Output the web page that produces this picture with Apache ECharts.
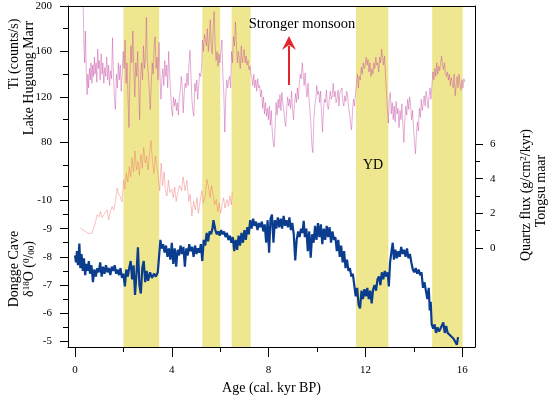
<!DOCTYPE html>
<html>
<head>
<meta charset="utf-8">
<script src="https://cdn.jsdelivr.net/npm/echarts@6/dist/echarts.min.js"></script>
<style>
  html, body { margin: 0; padding: 0; background: #fff; }
  #chart { width: 553px; height: 395px; }
</style>
</head>
<body>
<div id="chart"></div>
<script>
// Holocene monsoon records: Ti (Lake Huguang Maar), quartz flux (Tongsu maar), Dongge Cave d18O

// shaded intervals, kyr BP
const bands = [[2.0, 3.48], [5.26, 6.0], [6.47, 7.26], [11.61, 12.95], [14.76, 16.02]];

// tick values
const ageMajor = [0, 4, 8, 12, 16];
const ageMinor = [2, 6, 10, 14];
const tiMajor = [80, 120, 160, 200];
const tiMinor = [60, 100, 140, 180];
const d18oMajor = [-10, -9, -8, -7, -6, -5];
const d18oMinor = [-10.5, -9.5, -8.5, -7.5, -6.5, -5.5];
const qMajor = [0, 2, 4, 6];
const qMinor = [1, 3, 5];

// Ti counts/s  [age, value]
const tiData = [
  [0.34,200],[0.37,165],[0.40,150],[0.43,178],[0.46,147],[0.50,122],[0.53,140],[0.56,128],[0.60,145],[0.63,135],
  [0.66,150],[0.70,132],[0.73,148],[0.76,138],[0.80,155],[0.83,140],[0.87,150],[0.90,133],[0.94,162],[0.97,145],
  [1.00,152],[1.04,135],[1.08,158],[1.12,140],[1.15,150],[1.19,132],[1.23,146],[1.27,138],[1.31,155],[1.35,135],
  [1.39,148],[1.43,130],[1.47,143],[1.51,136],[1.55,172],[1.59,140],[1.63,118],[1.67,109],[1.71,140],[1.75,128],
  [1.79,150],[1.83,135],[1.87,148],[1.91,125],[1.95,140],[1.99,160],[2.03,145],[2.07,170],[2.11,132],[2.15,150],
  [2.19,120],[2.23,93],[2.27,140],[2.31,165],[2.35,150],[2.39,178],[2.43,145],[2.47,120],[2.51,150],[2.55,138],
  [2.59,160],[2.63,130],[2.67,100],[2.71,140],[2.75,150],[2.79,135],[2.83,165],[2.87,145],[2.91,155],[2.95,190],
  [2.99,150],[3.03,140],[3.07,125],[3.11,109],[3.15,130],[3.19,150],[3.23,140],[3.27,165],[3.31,173],[3.35,145],
  [3.39,155],[3.43,135],[3.47,168],[3.51,140],[3.55,118],[3.59,135],[3.63,145],[3.67,130],[3.71,152],[3.75,138],
  [3.79,148],[3.83,128],[3.87,160],[3.91,140],[3.95,125],[3.99,110],[4.03,103],[4.07,120],[4.11,112],[4.15,118],
  [4.19,108],[4.23,115],[4.27,104],[4.31,120],[4.35,125],[4.39,138],[4.43,130],[4.47,106],[4.51,122],[4.55,132],
  [4.59,128],[4.63,141],[4.67,130],[4.71,148],[4.75,161],[4.79,140],[4.83,118],[4.87,108],[4.91,103],[4.95,132],
  [4.99,125],[5.03,135],[5.07,118],[5.11,130],[5.15,141],[5.19,138],[5.23,145],[5.27,170],[5.31,160],[5.35,175],
  [5.39,176],[5.43,165],[5.47,180],[5.51,160],[5.55,170],[5.59,188],[5.63,165],[5.67,158],[5.71,180],[5.75,195],
  [5.79,165],[5.83,152],[5.87,160],[5.91,147],[5.95,158],[5.99,150],[6.03,161],[6.07,170],[6.11,140],[6.15,123],
  [6.19,89],[6.23,120],[6.27,135],[6.31,128],[6.35,135],[6.39,138],[6.43,128],[6.47,160],[6.51,150],[6.55,173],
  [6.59,165],[6.63,186],[6.67,165],[6.71,150],[6.75,160],[6.79,153],[6.83,145],[6.87,165],[6.91,150],[6.95,155],
  [6.99,162],[7.03,150],[7.07,156],[7.11,148],[7.15,152],[7.19,144],[7.23,147],[7.27,140],[7.31,137],[7.35,130],
  [7.39,140],[7.43,128],[7.47,135],[7.51,125],[7.55,136],[7.59,128],[7.63,130],[7.67,120],[7.71,126],[7.75,110],
  [7.79,120],[7.83,105],[7.87,115],[7.91,103],[7.95,110],[7.99,100],[8.03,112],[8.07,95],[8.11,108],[8.15,90],
  [8.19,80],[8.23,76],[8.27,95],[8.31,115],[8.35,104],[8.39,118],[8.43,110],[8.47,122],[8.51,108],[8.55,124],
  [8.59,114],[8.63,108],[8.67,98],[8.71,94],[8.75,110],[8.79,120],[8.83,112],[8.87,118],[8.91,110],[8.95,125],
  [8.99,108],[9.03,100],[9.07,114],[9.11,123],[9.15,115],[9.19,128],[9.23,118],[9.27,132],[9.31,140],[9.35,136],
  [9.39,150],[9.43,151],[9.47,130],[9.51,141],[9.55,128],[9.59,120],[9.63,132],[9.67,118],[9.71,108],[9.75,95],
  [9.79,77],[9.83,71],[9.87,100],[9.91,112],[9.95,118],[9.99,130],[10.03,122],[10.07,125],[10.11,115],[10.15,125],
  [10.19,105],[10.23,89],[10.27,110],[10.31,118],[10.35,115],[10.39,126],[10.43,112],[10.47,109],[10.51,118],[10.55,125],
  [10.59,118],[10.63,121],[10.67,132],[10.71,120],[10.75,125],[10.79,115],[10.83,118],[10.87,126],[10.91,112],[10.95,124],
  [10.99,123],[11.03,128],[11.07,115],[11.11,112],[11.15,121],[11.19,116],[11.23,125],[11.27,120],[11.31,110],[11.35,105],
  [11.39,96],[11.43,91],[11.47,108],[11.51,118],[11.55,112],[11.59,123],[11.63,130],[11.67,140],[11.71,128],[11.75,138],
  [11.79,135],[11.83,146],[11.87,140],[11.91,150],[11.95,145],[11.99,147],[12.03,155],[12.07,148],[12.11,153],[12.15,142],
  [12.19,150],[12.23,138],[12.27,145],[12.31,140],[12.35,150],[12.39,145],[12.43,155],[12.47,148],[12.51,150],[12.55,142],
  [12.59,155],[12.63,150],[12.67,162],[12.71,155],[12.75,148],[12.79,156],[12.83,140],[12.87,125],[12.91,110],[12.95,97],
  [12.99,118],[13.03,124],[13.07,105],[13.11,115],[13.15,100],[13.19,112],[13.23,98],[13.27,116],[13.31,105],[13.35,110],
  [13.39,93],[13.43,108],[13.47,100],[13.51,114],[13.55,95],[13.59,80],[13.63,100],[13.67,112],[13.71,104],[13.75,118],
  [13.79,109],[13.83,120],[13.87,112],[13.91,100],[13.95,108],[13.99,92],[14.03,80],[14.07,70],[14.11,88],[14.15,98],
  [14.19,90],[14.23,110],[14.27,102],[14.31,118],[14.35,108],[14.39,114],[14.43,121],[14.47,112],[14.51,125],[14.55,118],
  [14.59,110],[14.63,120],[14.67,128],[14.71,118],[14.75,130],[14.79,142],[14.83,135],[14.87,145],[14.91,138],[14.95,150],
  [14.99,140],[15.03,147],[15.07,143],[15.11,150],[15.15,156],[15.19,148],[15.23,144],[15.27,150],[15.31,140],[15.35,138],
  [15.39,142],[15.43,135],[15.47,140],[15.51,130],[15.55,137],[15.59,132],[15.63,128],[15.67,140],[15.71,121],[15.75,130],
  [15.79,138],[15.83,128],[15.87,140],[15.91,132],[15.95,126],[15.99,135],[16.03,128],[16.07,136],[16.11,133]
];

// quartz flux g/cm2/kyr  [age, value]
const quartzData = [
  [0.22,1.15],[0.30,1.05],[0.43,0.96],[0.55,0.85],[0.63,0.77],[0.70,0.85],[0.77,0.96],[0.85,1.5],[0.91,1.92],[1.00,1.8],
  [1.05,2.1],[1.12,1.75],[1.18,1.82],[1.25,2.05],[1.32,2.2],[1.39,1.63],[1.46,2.1],[1.53,2.39],[1.60,2.2],[1.67,2.68],
  [1.74,3.45],[1.80,3.1],[1.87,2.97],[1.94,2.68],[2.01,3.93],[2.06,3.4],[2.12,4.3],[2.18,3.8],[2.24,4.7],[2.30,4.1],
  [2.36,5.2],[2.42,4.4],[2.48,5.6],[2.54,4.5],[2.60,5.0],[2.66,4.2],[2.72,5.4],[2.78,4.6],[2.84,5.8],[2.90,4.9],
  [2.96,5.3],[3.02,4.5],[3.08,5.5],[3.14,6.2],[3.20,5.0],[3.26,4.3],[3.32,5.3],[3.38,4.8],[3.44,4.1],[3.50,3.3],
  [3.56,4.9],[3.62,3.6],[3.68,4.4],[3.74,3.3],[3.80,3.0],[3.86,3.9],[3.92,3.2],[4.00,3.4],[4.06,2.9],[4.12,3.5],
  [4.18,2.7],[4.25,3.2],[4.32,3.6],[4.40,3.3],[4.47,4.1],[4.55,3.3],[4.62,3.9],[4.70,2.7],[4.76,3.1],[4.83,1.85],
  [4.90,2.7],[4.97,2.2],[5.04,2.9],[5.10,2.0],[5.17,2.7],[5.24,3.3],[5.30,2.6],[5.38,3.0],[5.45,3.95],[5.52,3.5],
  [5.58,2.9],[5.64,3.6],[5.70,3.1],[5.77,2.5],[5.84,2.8],[5.90,2.1],[5.96,2.6],[6.02,2.0],[6.08,2.5],[6.14,2.9],
  [6.20,2.3],[6.28,2.8],[6.34,2.4],[6.40,3.0],[6.46,2.5],[6.50,3.2]
];

// Dongge Cave d18O permil  [age, value]
const donggeData = [
  [0.00,-8.05],[0.04,-7.8],[0.08,-8.2],[0.12,-7.7],[0.18,-8.47],[0.22,-7.6],[0.27,-8.1],[0.32,-7.5],[0.37,-7.95],[0.42,-7.35],
  [0.47,-7.75],[0.52,-7.5],[0.57,-7.85],[0.62,-7.4],[0.68,-7.7],[0.74,-7.1],[0.80,-7.55],[0.86,-7.3],[0.92,-7.6],[0.98,-7.45],
  [1.04,-7.8],[1.10,-7.3],[1.16,-7.65],[1.22,-7.4],[1.28,-7.7],[1.34,-7.45],[1.40,-7.6],[1.46,-7.35],[1.52,-7.65],[1.58,-7.5],
  [1.64,-7.7],[1.70,-7.4],[1.76,-7.55],[1.82,-7.35],[1.88,-7.6],[1.94,-7.25],[2.00,-7.4],[2.06,-6.95],[2.12,-7.55],[2.18,-7.3],
  [2.24,-7.6],[2.30,-7.85],[2.36,-7.2],[2.42,-7.7],[2.48,-6.65],[2.54,-7.4],[2.60,-8.34],[2.66,-7.0],[2.72,-6.7],[2.78,-7.6],
  [2.84,-7.85],[2.90,-7.1],[2.96,-7.5],[3.02,-7.15],[3.10,-7.45],[3.18,-7.25],[3.26,-7.4],[3.34,-7.3],[3.42,-7.45],[3.48,-7.4],
  [3.53,-8.6],[3.58,-8.3],[3.64,-8.45],[3.70,-8.15],[3.76,-8.4],[3.82,-8.0],[3.88,-8.3],[3.94,-7.9],[4.00,-8.5],[4.06,-7.75],
  [4.12,-8.3],[4.18,-7.65],[4.24,-8.25],[4.30,-8.05],[4.36,-8.4],[4.42,-8.1],[4.48,-8.35],[4.54,-7.65],[4.60,-8.3],[4.66,-8.05],
  [4.72,-8.45],[4.78,-8.2],[4.84,-8.35],[4.90,-8.0],[4.96,-8.4],[5.02,-8.1],[5.08,-8.3],[5.14,-8.15],[5.20,-8.45],[5.26,-7.85],
  [5.32,-8.6],[5.38,-8.4],[5.44,-8.85],[5.50,-8.55],[5.56,-8.9],[5.62,-8.8],[5.68,-9.0],[5.72,-9.3],[5.80,-8.95],[5.86,-8.8],
  [5.92,-8.9],[5.98,-8.75],[6.04,-8.95],[6.10,-8.8],[6.16,-8.9],[6.22,-8.7],[6.28,-8.85],[6.34,-8.6],[6.40,-8.75],[6.46,-8.5],
  [6.52,-8.7],[6.58,-8.2],[6.64,-8.6],[6.70,-8.25],[6.76,-8.75],[6.82,-8.4],[6.88,-8.85],[6.94,-8.5],[7.00,-8.95],[7.06,-8.6],
  [7.12,-9.05],[7.18,-8.8],[7.24,-9.3],[7.30,-9.0],[7.36,-9.35],[7.42,-9.1],[7.48,-9.25],[7.54,-8.95],[7.60,-9.2],[7.66,-9.05],
  [7.72,-9.25],[7.78,-8.9],[7.84,-9.15],[7.90,-8.5],[7.96,-9.3],[8.02,-8.15],[8.08,-9.35],[8.14,-9.5],[8.20,-8.5],[8.26,-9.3],
  [8.32,-9.0],[8.38,-9.4],[8.44,-9.05],[8.50,-9.35],[8.56,-9.0],[8.62,-9.45],[8.68,-9.1],[8.74,-9.3],[8.80,-9.05],[8.86,-9.4],
  [8.92,-8.95],[8.98,-9.2],[9.04,-8.8],[9.10,-7.87],[9.16,-8.6],[9.22,-8.9],[9.28,-8.7],[9.34,-9.0],[9.40,-8.85],[9.45,-9.28],
  [9.50,-8.7],[9.56,-9.0],[9.62,-8.2],[9.68,-8.9],[9.74,-7.97],[9.80,-8.8],[9.86,-8.5],[9.92,-9.1],[9.98,-8.6],[10.04,-9.2],
  [10.10,-8.7],[10.16,-9.15],[10.22,-8.45],[10.28,-9.0],[10.34,-8.6],[10.40,-9.1],[10.46,-8.7],[10.52,-9.05],[10.58,-8.5],[10.64,-8.9],
  [10.70,-8.6],[10.76,-8.7],[10.82,-8.2],[10.88,-8.6],[10.94,-8.0],[11.00,-8.4],[11.06,-7.8],[11.12,-8.2],[11.18,-7.6],[11.24,-7.9],
  [11.30,-7.5],[11.36,-7.6],[11.42,-7.3],[11.48,-7.4],[11.54,-7.0],[11.60,-6.6],[11.66,-6.9],[11.72,-6.3],[11.78,-6.17],[11.84,-6.8],
  [11.90,-6.5],[11.96,-6.85],[12.02,-6.6],[12.08,-6.9],[12.14,-6.5],[12.20,-6.8],[12.26,-6.35],[12.32,-6.85],[12.38,-7.0],[12.44,-6.8],
  [12.50,-7.2],[12.56,-7.3],[12.62,-7.0],[12.68,-7.45],[12.74,-7.2],[12.80,-7.5],[12.86,-7.3],[12.92,-7.45],[12.97,-6.95],[13.02,-7.8],
  [13.08,-8.2],[13.13,-8.5],[13.18,-7.9],[13.24,-8.25],[13.30,-7.95],[13.36,-8.2],[13.42,-8.0],[13.48,-8.35],[13.54,-8.1],[13.60,-8.25],
  [13.66,-8.0],[13.72,-8.3],[13.78,-7.95],[13.84,-8.1],[13.90,-7.8],[13.96,-7.55],[14.02,-7.45],[14.08,-7.6],[14.14,-7.4],[14.20,-7.55],
  [14.26,-7.35],[14.32,-7.45],[14.38,-6.9],[14.44,-7.1],[14.50,-6.8],[14.56,-6.5],[14.62,-6.9],[14.66,-6.1],[14.70,-6.4],[14.74,-5.6],
  [14.80,-5.45],[14.86,-5.6],[14.92,-5.3],[14.98,-5.5],[15.04,-5.35],[15.10,-5.45],[15.16,-5.5],[15.22,-5.67],[15.28,-5.3],[15.34,-5.55],
  [15.40,-5.3],[15.46,-5.35],[15.52,-5.2],[15.58,-5.25],[15.64,-5.1],[15.70,-5.15],[15.78,-4.88],[15.83,-5.15]
];

const FONT = 'Liberation Serif';
const GRID = { left: 68, right: 78, top: 6, bottom: 48 };
const AGE_MIN = -0.29, AGE_MAX = 16.53;

const chart = echarts.init(document.getElementById('chart'));

// helper for an axis that only draws some ticks (and maybe labels)
function tickAxis(base, ticks, len, labels, labelMargin) {
  return Object.assign({
    type: 'value',
    z: 5,
    axisLine: { show: false, onZero: false },
    axisTick: { show: true, length: len, customValues: ticks, lineStyle: { color: '#000', width: 1 } },
    axisLabel: labels
      ? { show: true, customValues: ticks, margin: labelMargin, fontFamily: FONT, fontSize: 11, color: '#000' }
      : { show: false },
    splitLine: { show: false }
  }, base);
}

const frameLine = { show: true, onZero: false, lineStyle: { color: '#000', width: 1 } };

const option = {
  animation: false,
  backgroundColor: '#fff',
  grid: {
    left: GRID.left, right: GRID.right, top: GRID.top, bottom: GRID.bottom,
    containLabel: false,
    outerBoundsMode: 'none'
  },
  xAxis: [
    Object.assign(tickAxis({ position: 'bottom', min: AGE_MIN, max: AGE_MAX }, ageMajor, 10, true, 18), {
      axisLine: frameLine,
      name: 'Age (cal. kyr BP)',
      nameLocation: 'middle',
      nameGap: 31,
      nameTextStyle: { fontFamily: FONT, fontSize: 14, color: '#000' }
    }),
    tickAxis({ position: 'bottom', min: AGE_MIN, max: AGE_MAX }, ageMinor, 5, false),
    Object.assign(tickAxis({ position: 'top', min: AGE_MIN, max: AGE_MAX }, [], 0, false), {
      axisLine: frameLine,
      axisTick: { show: false }
    })
  ],
  yAxis: [
    // Ti (frame left line)
    Object.assign(tickAxis({ position: 'left', min: -100, max: 200 }, tiMajor, 8, true, 16), {
      axisLine: frameLine
    }),
    tickAxis({ position: 'left', min: -100, max: 200 }, tiMinor, 5, false),
    // Dongge d18O, reversed
    tickAxis({ position: 'left', min: -16.9, max: -4.8, inverse: true }, d18oMajor, 8, true, 16),
    tickAxis({ position: 'left', min: -16.9, max: -4.8, inverse: true }, d18oMinor, 5, false),
    // quartz flux (frame right line)
    Object.assign(tickAxis({ position: 'right', min: -5.7, max: 13.95 }, qMajor, 8, true, 15), {
      axisLine: frameLine
    }),
    tickAxis({ position: 'right', min: -5.7, max: 13.95 }, qMinor, 5, false)
  ],
  series: [
    {
      name: 'bands',
      type: 'line',
      xAxisIndex: 0,
      yAxisIndex: 0,
      data: [[-5, 0]],
      symbol: 'none',
      lineStyle: { opacity: 0 },
      silent: true,
      z: 1,
      markArea: {
        silent: true,
        itemStyle: { color: '#efe78f' },
        data: bands.map(b => [{ xAxis: b[0] }, { xAxis: b[1] }])
      }
    },
    {
      name: 'Ti',
      type: 'line',
      xAxisIndex: 0,
      yAxisIndex: 0,
      data: tiData,
      symbol: 'none',
      silent: true,
      z: 3,
      lineStyle: { color: 'rgba(196,70,160,0.55)', width: 0.8 }
    },
    {
      name: 'Quartz flux',
      type: 'line',
      xAxisIndex: 0,
      yAxisIndex: 4,
      data: quartzData,
      symbol: 'none',
      silent: true,
      z: 3,
      lineStyle: { color: 'rgba(240,100,100,0.5)', width: 0.8 }
    },
    {
      name: 'Dongge',
      type: 'line',
      xAxisIndex: 0,
      yAxisIndex: 2,
      data: donggeData,
      symbol: 'none',
      silent: true,
      z: 4,
      lineStyle: { color: '#0b3d8f', width: 2.2 }
    }
  ],
  graphic: [
    { type: 'text', x: 14, y: 54, rotation: Math.PI / 2, z: 10,
      style: { text: 'Ti (counts/s)', font: '14px "Liberation Serif"', fill: '#000', align: 'center', verticalAlign: 'middle' } },
    { type: 'text', x: 29, y: 78, rotation: Math.PI / 2, z: 10,
      style: { text: 'Lake Huguang Marr', font: '14px "Liberation Serif"', fill: '#000', align: 'center', verticalAlign: 'middle' } },
    { type: 'text', x: 14, y: 269, rotation: Math.PI / 2, z: 10,
      style: { text: 'Dongge Cave', font: '14px "Liberation Serif"', fill: '#000', align: 'center', verticalAlign: 'middle' } },
    { type: 'text', x: 29, y: 269, rotation: Math.PI / 2, z: 10,
      style: {
        text: 'δ{sup|18}O ({sup|0}/{sub|00})',
        fontFamily: FONT, fontSize: 14, fill: '#000', align: 'center', verticalAlign: 'middle',
        rich: {
          sup: { fontFamily: FONT, fontSize: 9, verticalAlign: 'top', fill: '#000' },
          sub: { fontFamily: FONT, fontSize: 9, verticalAlign: 'bottom', fill: '#000' }
        }
      } },
    { type: 'text', x: 526, y: 195, rotation: Math.PI / 2, z: 10,
      style: {
        text: 'Quartz flux (g/cm{sup|2}/kyr)',
        fontFamily: FONT, fontSize: 14, fill: '#000', align: 'center', verticalAlign: 'middle',
        rich: { sup: { fontFamily: FONT, fontSize: 9, verticalAlign: 'top', fill: '#000' } }
      } },
    { type: 'text', x: 541, y: 191, rotation: Math.PI / 2, z: 10,
      style: { text: 'Tongsu maar', font: '14px "Liberation Serif"', fill: '#000', align: 'center', verticalAlign: 'middle' } },
    { type: 'text', x: 302, y: 24, z: 10,
      style: { text: 'Stronger monsoon', font: '14.5px "Liberation Serif"', fill: '#000', align: 'center', verticalAlign: 'middle' } },
    { type: 'text', x: 373, y: 165, z: 10,
      style: { text: 'YD', font: '14px "Liberation Serif"', fill: '#000', align: 'center', verticalAlign: 'middle' } },
    { type: 'line', z: 10, shape: { x1: 289, y1: 85, x2: 289, y2: 46 },
      style: { stroke: '#e3262b', lineWidth: 2 } },
    { type: 'polygon', z: 10, shape: { points: [[282, 50], [289, 36], [296, 50], [289, 45]] },
      style: { fill: '#e3262b' } }
  ]
};

chart.setOption(option);
</script>
</body>
</html>
